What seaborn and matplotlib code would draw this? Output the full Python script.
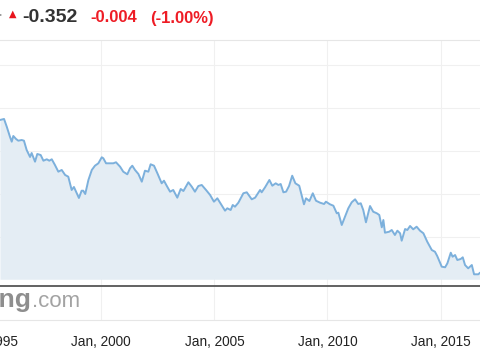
import matplotlib
matplotlib.use("Agg")
import matplotlib.pyplot as plt
import seaborn as sns
import pandas as pd

# ---- data (y units arbitrary, x in years) ----
years = [1995.52, 1995.70, 1995.82, 1995.96, 1996.04, 1996.11, 1996.23, 1996.33, 1996.48, 1996.58,
         1996.70, 1996.85, 1996.92, 1997.07, 1997.17, 1997.32, 1997.44, 1997.59, 1997.70, 1997.81,
         1997.95, 1998.10, 1998.25, 1998.40, 1998.54, 1998.69, 1998.79, 1998.91, 1999.01, 1999.13,
         1999.20, 1999.29, 1999.43, 1999.58, 1999.72, 1999.87, 2000.02, 2000.09, 2000.21, 2000.38,
         2000.53, 2000.65, 2000.83, 2000.97, 2001.15, 2001.27, 2001.37, 2001.49, 2001.64, 2001.79,
         2001.93, 2002.08, 2002.18, 2002.33, 2002.48, 2002.67, 2002.77, 2002.89, 2003.04, 2003.18,
         2003.36, 2003.51, 2003.63, 2003.85, 2004.00, 2004.14, 2004.29, 2004.44, 2004.63, 2004.81,
         2004.98, 2005.13, 2005.25, 2005.47, 2005.57, 2005.72, 2005.81, 2005.91, 2006.06, 2006.28,
         2006.43, 2006.65, 2006.80, 2007.02, 2007.09, 2007.24, 2007.43, 2007.56, 2007.71, 2007.83,
         2007.93, 2008.05, 2008.17, 2008.30, 2008.44, 2008.58, 2008.75, 2008.96, 2009.05, 2009.20,
         2009.35, 2009.49, 2009.67, 2009.85, 2009.93, 2010.11, 2010.26, 2010.41, 2010.48, 2010.63,
         2010.73, 2010.92, 2011.07, 2011.22, 2011.36, 2011.47, 2011.58, 2011.70, 2011.88, 2012.02,
         2012.18, 2012.29, 2012.40, 2012.47, 2012.54, 2012.73, 2012.84, 2012.98, 2013.09, 2013.21,
         2013.28, 2013.43, 2013.53, 2013.65, 2013.79, 2013.94, 2014.09, 2014.24, 2014.41, 2014.61,
         2014.75, 2014.85, 2015.05, 2015.20, 2015.30, 2015.45, 2015.53, 2015.64, 2015.74, 2015.89,
         2015.98, 2016.08, 2016.22, 2016.38, 2016.48, 2016.67, 2016.74]
values = [2.725, 2.749, 2.568, 2.335, 2.218, 2.351, 2.281, 2.241, 2.257, 2.241,
          2.023, 1.860, 1.953, 1.750, 1.930, 1.906, 1.773, 1.806, 1.773, 1.806,
          1.673, 1.516, 1.556, 1.439, 1.399, 1.088, 1.158, 1.018, 0.901, 1.071,
          1.071, 0.994, 1.322, 1.556, 1.656, 1.712, 1.853, 1.829, 1.712, 1.712,
          1.712, 1.736, 1.633, 1.516, 1.455, 1.595, 1.656, 1.556, 1.462, 1.282,
          1.539, 1.516, 1.689, 1.656, 1.478, 1.244, 1.305, 1.188, 1.048, 1.088,
          0.908, 1.111, 1.064, 1.268, 1.165, 1.048, 1.181, 1.205, 1.088, 0.971,
          0.814, 0.894, 0.791, 0.604, 0.660, 0.620, 0.737, 0.697, 0.791, 1.011,
          1.034, 0.870, 0.908, 1.088, 1.034, 1.151, 1.322, 1.188, 1.244, 1.205,
          1.228, 1.034, 1.048, 1.181, 1.422, 1.244, 1.188, 0.753, 0.894, 0.830,
          1.011, 0.837, 0.791, 0.760, 0.814, 0.753, 0.720, 0.543, 0.557, 0.269,
          0.402, 0.660, 0.800, 0.870, 0.760, 0.777, 0.620, 0.332, 0.713, 0.580,
          0.543, 0.503, 0.215, 0.386, 0.089, 0.112, 0.152, 0.035, 0.136, 0.075,
          -0.098, 0.175, 0.152, 0.246, 0.168, 0.229, 0.136, 0.075, -0.122, -0.316,
          -0.356, -0.456, -0.706, -0.720, -0.627, -0.379, -0.473, -0.433, -0.550, -0.526,
          -0.487, -0.667, -0.744, -0.667, -0.884, -0.884, -0.847]
tick_years = [1995, 2000, 2005, 2010, 2015]
tick_labels = ["Jan, 1995", "Jan, 2000", "Jan, 2005", "Jan, 2010", "Jan, 2015"]
grid_levels = [0, 1, 2, 3, 4]
header_last = "-0.352"
header_change = "-0.004"
header_pct = "(-1.00%)"

df = pd.DataFrame({"year": years, "value": values})

sns.set_theme(style="white")
plt.rcParams["font.family"] = ["Liberation Sans", "DejaVu Sans"]

W, H = 480, 360
fig = plt.figure(figsize=(W / 100, H / 100), dpi=100)

def fx(px):
    return px / W

def fy(py):
    return 1 - py / H

# axes spans pixel x -30..480, y 40..320
ax = fig.add_axes([fx(-30), fy(320), fx(510), (320 - 40) / H])
ax.set_xlim(1994.195, 2016.742)
ax.set_ylim(-1.953, 4.596)

base = -1.0
ax.fill_between(df["year"], df["value"], base, color="#e4edf4", linewidth=0, zorder=1)
sns.lineplot(data=df, x="year", y="value", ax=ax, color="#7cb0dc", linewidth=1.4, zorder=3)

for g in grid_levels:
    ax.axhline(g, color="#f0f0f0", linewidth=0.8, zorder=0)
for t in tick_years:
    ax.axvline(t, color="#f0f0f0", linewidth=0.8, zorder=0)
ax.axhline(-1.151, color="#555555", linewidth=1.3, zorder=4)

ax.set_xticks(tick_years)
ax.set_xticklabels(tick_labels)
ax.set_yticks([])
ax.tick_params(axis="x", length=0, pad=11, labelsize=9.8, colors="#222222")
ax.set_xlabel("")
ax.set_ylabel("")
for s in ["left", "right"]:
    ax.spines[s].set_visible(False)
ax.spines["top"].set_color("#e6e6e6")
ax.spines["top"].set_linewidth(0.8)
ax.spines["bottom"].set_color("#e6e6e6")
ax.spines["bottom"].set_linewidth(0.8)

# watermark
fig.text(fx(31.5), fy(307), "Investing", ha="right", va="baseline",
         fontsize=19, fontweight="bold", color="#8e8e8e")
fig.text(fx(32.5), fy(307), ".com", ha="left", va="baseline",
         fontsize=16, color="#a3a3a3")

# header
fig.text(fx(12.5), fy(13.5), "\u25B2", ha="center", va="center", fontsize=7,
         color="#e8141c", family=["DejaVu Sans"])
fig.text(fx(0.5), fy(16), "\u2022", ha="center", va="center", fontsize=6, color="#999999")
fig.text(fx(22.5), fy(18), header_last, ha="left", va="center",
         fontsize=14, fontweight="bold", color="#333333")
fig.text(fx(90), fy(18), header_change, ha="left", va="center",
         fontsize=12, fontweight="bold", color="#ee1c25")
fig.text(fx(150), fy(18), header_pct, ha="left", va="center",
         fontsize=12, fontweight="bold", color="#ee1c25")

fig.savefig("out.png", dpi=100)
